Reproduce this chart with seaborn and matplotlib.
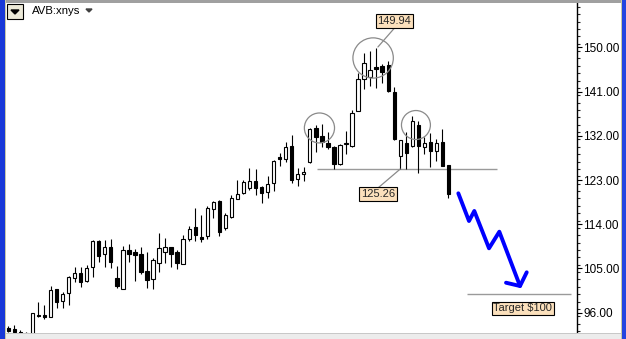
import numpy as np
import pandas as pd
import seaborn as sns
import matplotlib
matplotlib.use("Agg")
import matplotlib.pyplot as plt
from matplotlib.patches import Rectangle, Ellipse, Polygon

# ---------------- data ----------------
opens = [92.9, 92.65, 92.1, 91.8, 91.6, 95.5, 95.5, 95.2, 100.8, 98.35,
         99.9, 103.0, 104.0, 102.5, 105.2, 110.6, 107.9, 109.3, 103.1, 100.9,
         108.7, 108.3, 107.9, 104.5, 102.8, 106.0, 108.3, 109.3, 108.3, 105.8,
         110.9, 113.4, 111.3, 111.6, 117.0, 118.7, 113.2, 115.5, 119.1, 120.4,
         121.4, 122.8, 121.5, 120.6, 122.3, 127.6, 127.2, 129.9, 123.3, 124.2,
         126.6, 133.5, 132.0, 130.6, 129.8, 126.3, 130.3, 130.0, 137.1, 143.5,
         143.9, 146.1, 146.2, 146.4, 141.0, 127.9, 130.5, 129.9, 134.2, 129.7,
         130.7, 129.0, 130.7, 126.1]
highs = [93.3, 93.5, 92.4, 92.1, 95.9, 98.1, 97.5, 101.4, 100.9, 100.25,
         103.5, 105.2, 105.2, 105.7, 110.8, 110.8, 110.8, 111.0, 105.5, 109.6,
         109.9, 109.0, 109.4, 108.4, 107.05, 112.3, 111.1, 109.4, 108.7, 111.8,
         113.6, 117.4, 115.9, 117.7, 118.7, 118.9, 116.2, 119.9, 123.0, 123.0,
         125.4, 125.2, 121.8, 123.8, 127.1, 128.6, 130.7, 132.2, 125.4, 125.7,
         133.5, 134.3, 134.5, 132.8, 129.9, 130.3, 133.0, 137.3, 144.7, 148.8,
         149.3, 149.94, 146.6, 147.3, 141.9, 131.2, 132.8, 136.0, 135.1, 131.7,
         132.6, 131.3, 133.3, 126.1]
lows = [92.0, 91.8, 91.5, 91.5, 91.5, 95.0, 94.7, 95.2, 96.9, 96.9,
        97.5, 102.3, 101.3, 102.2, 103.3, 106.4, 105.3, 105.0, 101.1, 100.9,
        106.2, 102.5, 103.9, 101.1, 100.7, 104.3, 106.0, 105.2, 104.8, 105.8,
        110.6, 110.6, 110.4, 110.9, 115.2, 111.5, 112.8, 115.2, 119.1, 120.1,
        121.0, 119.9, 118.4, 119.4, 120.8, 125.9, 126.7, 122.3, 121.8, 122.7,
        126.4, 128.8, 129.8, 129.3, 125.3, 126.0, 128.2, 129.8, 137.0, 141.5,
        142.1, 141.8, 142.7, 141.0, 131.2, 125.26, 125.3, 129.8, 124.5, 128.3,
        125.7, 126.9, 125.8, 119.3]
closes = [92.25, 92.0, 91.7, 91.7, 95.85, 95.25, 95.2, 100.6, 98.2, 99.7,
          103.2, 104.0, 102.3, 105.0, 110.6, 107.6, 109.3, 106.2, 101.4, 108.7,
          107.9, 107.8, 104.2, 102.6, 106.7, 109.1, 109.3, 107.9, 106.0, 110.9,
          113.0, 111.8, 111.05, 117.2, 118.6, 112.5, 115.9, 119.3, 120.1, 122.5,
          122.8, 121.4, 120.4, 122.1, 126.9, 127.3, 129.7, 123.0, 124.2, 124.6,
          133.4, 131.8, 130.7, 129.65, 126.2, 130.1, 130.5, 136.6, 143.6, 146.8,
          145.5, 145.7, 144.9, 141.2, 131.3, 131.1, 128.4, 135.0, 130.0, 130.5,
          129.0, 130.5, 125.9, 120.1]

neckline = 125.26
head_high = 149.94
target = 100.0
price_ticks = [96, 105, 114, 123, 132, 141, 150]
tick_labels = ["96.00", "105.00", "114.00", "123.00", "132.00", "141.00", "150.00"]
symbol = "AVB:xnys"

# projected path (blue arrow)
arrow_x = [74.63, 76.40, 77.28, 79.72, 81.43, 84.86]
arrow_y = [120.29, 114.65, 116.69, 109.09, 112.47, 101.41]
head_x = [82.54, 84.86, 85.97]
head_y = [102.08, 101.41, 104.20]

df = pd.DataFrame({"idx": np.arange(len(opens)), "open": opens, "high": highs,
                   "low": lows, "close": closes})
df["up"] = df["close"] >= df["open"]

# ---------------- figure ----------------
sns.set_style("white")
plt.rcParams["font.family"] = ["Liberation Sans", "DejaVu Sans"]

W, H = 626, 339
fig = plt.figure(figsize=(W / 100, H / 100), dpi=100)
fig.patch.set_facecolor("white")

def fx(px):
    return px / W

def fy(py):
    return 1 - py / H

ax = fig.add_axes([fx(6), fy(333), fx(577) - fx(6), fy(3) - fy(333)])
ax.set_facecolor("white")

# wicks
ax.vlines(df["idx"], df["low"], df["high"], color="black", lw=0.8, zorder=2)
# bodies
bw = 0.56
bottoms = np.minimum(df["open"], df["close"])
heights = np.maximum(np.abs(df["close"] - df["open"]), 0.15)
fc = np.where(df["up"], "white", "black")
ax.bar(df["idx"], heights, bottom=bottoms, width=bw, color=fc,
       edgecolor="black", linewidth=0.8, zorder=3)

# neckline and target line
ax.hlines(neckline, 51.2, 81.0, color="#9a9a9a", lw=1.0, zorder=1)
ax.hlines(target - 0.2, 76.0, 93.3, color="#9a9a9a", lw=1.0, zorder=1)

# circles (head and shoulders)
for cx, cy, w, h in [(60.5, 147.85, 6.7, 8.2), (51.6, 133.6, 5.0, 6.1), (67.6, 134.2, 4.8, 5.9)]:
    ax.add_patch(Ellipse((cx, cy), w, h, fill=False, ec="#8a8a8a", lw=0.9, zorder=4))

# leader lines
ax.plot([64.05, 61.3], [153.96, 150.1], color="#8a8a8a", lw=0.9, zorder=4)
ax.plot([61.3, 65.0], [121.37, 125.24], color="#8a8a8a", lw=0.9, zorder=4)

# labels
box = dict(boxstyle="square,pad=0.15", fc="#FBE0BC", ec="black", lw=0.8)
ax.text(64.0, 155.4, f"{head_high:.2f}", ha="center", va="center", fontsize=8, bbox=box, zorder=6)
ax.text(61.3, 120.15, f"{neckline:.2f}", ha="center", va="center", fontsize=8, bbox=box, zorder=6)
ax.text(85.3, 96.83, f"Target ${target:.0f}", ha="center", va="center", fontsize=8, bbox=box, zorder=6)

# blue projected arrow
sns.lineplot(x=arrow_x, y=arrow_y, sort=False, estimator=None, color="#0000ff",
             lw=2.8, ax=ax, zorder=5)
sns.lineplot(x=head_x, y=head_y, sort=False, estimator=None, color="#0000ff",
             lw=2.8, ax=ax, zorder=5)

# axes styling
ax.set_xlim(-0.38, 94.31)
ax.set_ylim(91.84, 159.05)
for s in ["left", "top", "bottom"]:
    ax.spines[s].set_visible(False)
ax.spines["right"].set_visible(True)
ax.spines["right"].set_color("black")
ax.spines["right"].set_linewidth(1.0)
ax.set_xticks([])
ax.yaxis.tick_right()
ax.set_yticks(price_ticks)
ax.set_yticklabels(tick_labels)
ax.set_yticks(np.arange(92.25, 159.1, 1.5), minor=True)
ax.tick_params(axis="y", which="major", direction="out", length=3.5, width=0.8,
               pad=1, labelsize=8.5, colors="black")
ax.tick_params(axis="y", which="minor", direction="out", length=2, width=0.8)
ax.set_xlabel("")
ax.set_ylabel("")

# ---------------- window chrome ----------------
def frect(x0, y0, x1, y1, **kw):
    fig.patches.append(Rectangle((fx(x0), fy(y1)), fx(x1) - fx(x0), fy(y0) - fy(y1),
                                 transform=fig.transFigure, **kw))

frect(0, 0, W, 3, color="#a0a0a0", lw=0)           # top bar
frect(0, 0, 4.5, H, color="#1838d8", lw=0)         # left blue border
frect(4.5, 0, 5.5, H, color="#c8c8a8", lw=0)
frect(621, 0, 622, H, color="#c8c8a8", lw=0)       # right border
frect(622, 0, W, H, color="#2444e0", lw=0)
frect(5.5, 333, 621, H, color="#ececec", lw=0)     # bottom strip
frect(5.5, 333, 621, 334, color="#c8c8c8", lw=0)

# dropdown button
frect(7, 4, 23, 19, facecolor="#ece9d8", edgecolor="black", lw=0.8)
fig.patches.append(Polygon([(fx(11), fy(10)), (fx(19), fy(10)), (fx(15), fy(14))],
                           closed=True, transform=fig.transFigure, color="black"))
fig.text(fx(32), fy(11.5), symbol, ha="left", va="center", fontsize=8.2, color="black")
fig.patches.append(Polygon([(fx(86), fy(9)), (fx(92), fy(9)), (fx(89), fy(12))],
                           closed=True, transform=fig.transFigure, color="#404040"))

fig.savefig("out.png", dpi=100)
